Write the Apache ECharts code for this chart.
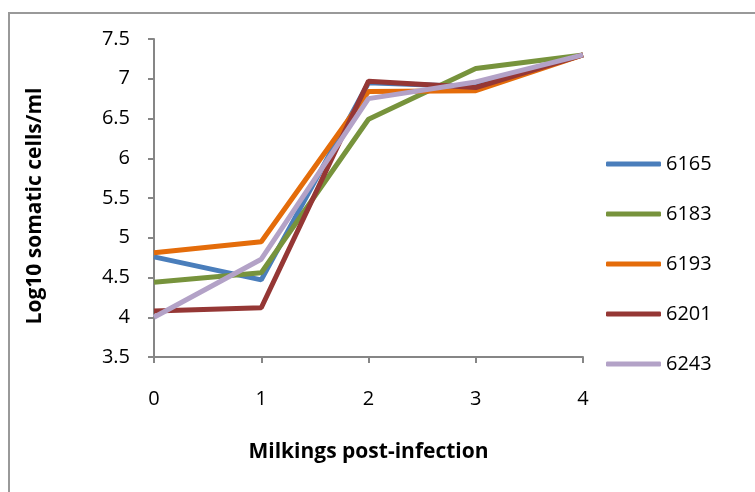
<!DOCTYPE html>
<html>
<head>
<meta charset="utf-8">
<script src="https://cdn.jsdelivr.net/npm/echarts@6/dist/echarts.min.js"></script>
<style>
  html, body { margin: 0; padding: 0; background: #fff; }
  #chart { width: 755px; height: 492px; }
</style>
</head>
<body>
<div id="chart"></div>
<script>
const milkings = ['0', '1', '2', '3', '4']
const cow6165 = [4.76, 4.47, 6.95, 6.9, 7.3]
const cow6183 = [4.44, 4.56, 6.49, 7.13, 7.3]
const cow6193 = [4.81, 4.95, 6.84, 6.85, 7.3]
const cow6201 = [4.08, 4.12, 6.97, 6.89, 7.3]
const cow6243 = [4.0, 4.73, 6.75, 6.96, 7.3]

const seriesList = [
  { name: '6165', data: cow6165, color: '#4A7EBB' },
  { name: '6183', data: cow6183, color: '#77933C' },
  { name: '6193', data: cow6193, color: '#E46C0A' },
  { name: '6201', data: cow6201, color: '#953735' },
  { name: '6243', data: cow6243, color: '#B3A2C7' }
]

const font = '"Open Sans", Lato, sans-serif'
const chart = echarts.init(document.getElementById('chart'))

chart.setOption({
  animation: false,
  color: seriesList.map(s => s.color),
  textStyle: { fontFamily: font },
  graphic: [
    {
      type: 'rect',
      shape: { x: 9, y: 13, width: 800, height: 520 },
      style: { fill: 'none', stroke: '#999', lineWidth: 2 }
    }
  ],
  grid: {
    left: 154,
    right: 172,
    top: 39,
    bottom: 135
  },
  legend: {
    orient: 'vertical',
    left: 601,
    top: 148,
    itemWidth: 55,
    itemHeight: 5,
    itemGap: 28,
    icon: 'roundRect',
    textStyle: { fontSize: 20, color: '#000', lineHeight: 22, fontFamily: font },
    data: seriesList.map(s => s.name)
  },
  xAxis: {
    type: 'category',
    boundaryGap: false,
    data: milkings,
    name: 'Milkings post-infection',
    nameLocation: 'middle',
    nameGap: 85,
    nameTextStyle: { fontSize: 21, fontWeight: 'bold', color: '#000', fontFamily: font },
    axisLine: { lineStyle: { color: '#868686', width: 2 } },
    axisTick: { show: true, length: 6, alignWithLabel: true, lineStyle: { color: '#868686', width: 2 } },
    axisLabel: { fontSize: 20, color: '#000', margin: 32, fontFamily: font },
    splitLine: { show: false }
  },
  yAxis: {
    type: 'value',
    min: 3.5,
    max: 7.5,
    interval: 0.5,
    name: 'Log10 somatic cells/ml',
    nameLocation: 'middle',
    nameGap: 108,
    nameTextStyle: { fontSize: 21, fontWeight: 'bold', color: '#000', fontFamily: font, padding: [0, 16, 0, 0] },
    axisLine: { show: true, lineStyle: { color: '#868686', width: 2 } },
    axisTick: { show: true, length: 6, lineStyle: { color: '#868686', width: 2 } },
    axisLabel: { fontSize: 20, color: '#000', margin: 24, fontFamily: font },
    splitLine: { show: false }
  },
  series: seriesList.map(s => ({
    name: s.name,
    type: 'line',
    data: s.data,
    showSymbol: false,
    symbol: 'none',
    lineStyle: { width: 5, color: s.color }
  }))
})
</script>
</body>
</html>
